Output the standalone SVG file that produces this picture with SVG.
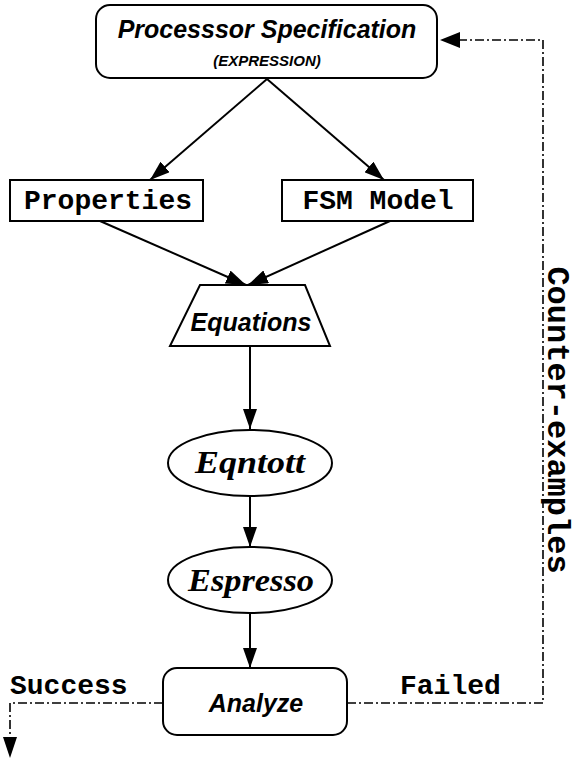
<svg xmlns="http://www.w3.org/2000/svg" width="576" height="774" viewBox="0 0 576 774">
  <style>
    .box { fill: #fff; stroke: #000; stroke-width: 2; }
    .edge { fill: none; stroke: #000; stroke-width: 2; }
    .dash { fill: none; stroke: #000; stroke-width: 1.6; stroke-dasharray: 9 3 2 3; }
    .sans { font-family: "Liberation Sans", Arial, sans-serif; font-weight: bold; font-style: italic; text-anchor: middle; }
    .serif { font-family: "Liberation Serif", "Times New Roman", serif; font-weight: bold; font-style: italic; text-anchor: middle; font-size: 31px; }
    .mono { font-family: "Liberation Mono", "Courier New", monospace; font-weight: bold; font-size: 28px; }
    .side { font-size: 32px; }
  </style>
  <defs>
    <marker id="arrow" viewBox="0 0 20 14" refX="20" refY="7" markerWidth="20" markerHeight="14" markerUnits="userSpaceOnUse" orient="auto">
      <path d="M0,0 L20,7 L0,14 Z" fill="#000"/>
    </marker>
  </defs>

  <rect width="576" height="774" fill="#fff"/>

  <!-- connectors -->
  <g id="connectors">
    <line class="edge" x1="267" y1="79" x2="150" y2="180" marker-end="url(#arrow)"/>
    <line class="edge" x1="267" y1="79" x2="384" y2="180" marker-end="url(#arrow)"/>
    <line class="edge" x1="100" y1="221" x2="246" y2="285" marker-end="url(#arrow)"/>
    <line class="edge" x1="390" y1="221" x2="248" y2="285" marker-end="url(#arrow)"/>
    <line class="edge" x1="250" y1="346" x2="250" y2="429" marker-end="url(#arrow)"/>
    <line class="edge" x1="250" y1="496" x2="250" y2="547" marker-end="url(#arrow)"/>
    <line class="edge" x1="250" y1="613" x2="250" y2="668" marker-end="url(#arrow)"/>
    <!-- success exit -->
    <polyline class="dash" points="163,703 10,703 10,737"/>
    <path d="M3,737 L17,737 L10,758 Z" fill="#000"/>
    <!-- failure feedback loop -->
    <polyline class="dash" points="347,703 543,703 543,40 458,40"/>
    <path d="M460,32 L460,48 L440,40 Z" fill="#000"/>
  </g>

  <g id="spec">
    <rect class="box" x="96" y="5" width="341" height="73" rx="14"/>
    <text class="sans" x="267" y="38" font-size="25">Processsor Specification</text>
    <text class="sans" x="267" y="66" font-size="15">(EXPRESSION)</text>
  </g>

  <g id="properties">
    <rect class="box" x="10" y="180" width="193" height="41"/>
    <text class="mono" x="108" y="209" text-anchor="middle">Properties</text>
  </g>

  <g id="fsm">
    <rect class="box" x="282" y="180" width="191" height="41"/>
    <text class="mono" x="378" y="209" text-anchor="middle">FSM Model</text>
  </g>

  <g id="equations">
    <polygon class="box" points="200,285 305,285 330,346 170,346"/>
    <text class="sans" x="251" y="331" font-size="25">Equations</text>
  </g>

  <g id="eqntott">
    <ellipse class="box" cx="250" cy="463" rx="82" ry="33"/>
    <text class="serif" x="250" y="473" textLength="110" lengthAdjust="spacingAndGlyphs">Eqntott</text>
  </g>

  <g id="espresso">
    <ellipse class="box" cx="250" cy="580" rx="82" ry="33"/>
    <text class="serif" x="251" y="591" textLength="126" lengthAdjust="spacingAndGlyphs">Espresso</text>
  </g>

  <g id="analyze">
    <rect class="box" x="163" y="668" width="184" height="67" rx="14"/>
    <text class="sans" x="256" y="712" font-size="25">Analyze</text>
  </g>

  <g id="labels">
    <text class="mono" x="10" y="694">Success</text>
    <text class="mono" x="400" y="694">Failed</text>
    <text class="mono side" transform="translate(548,420) rotate(90)" text-anchor="middle">Counter-examples</text>
  </g>
</svg>
